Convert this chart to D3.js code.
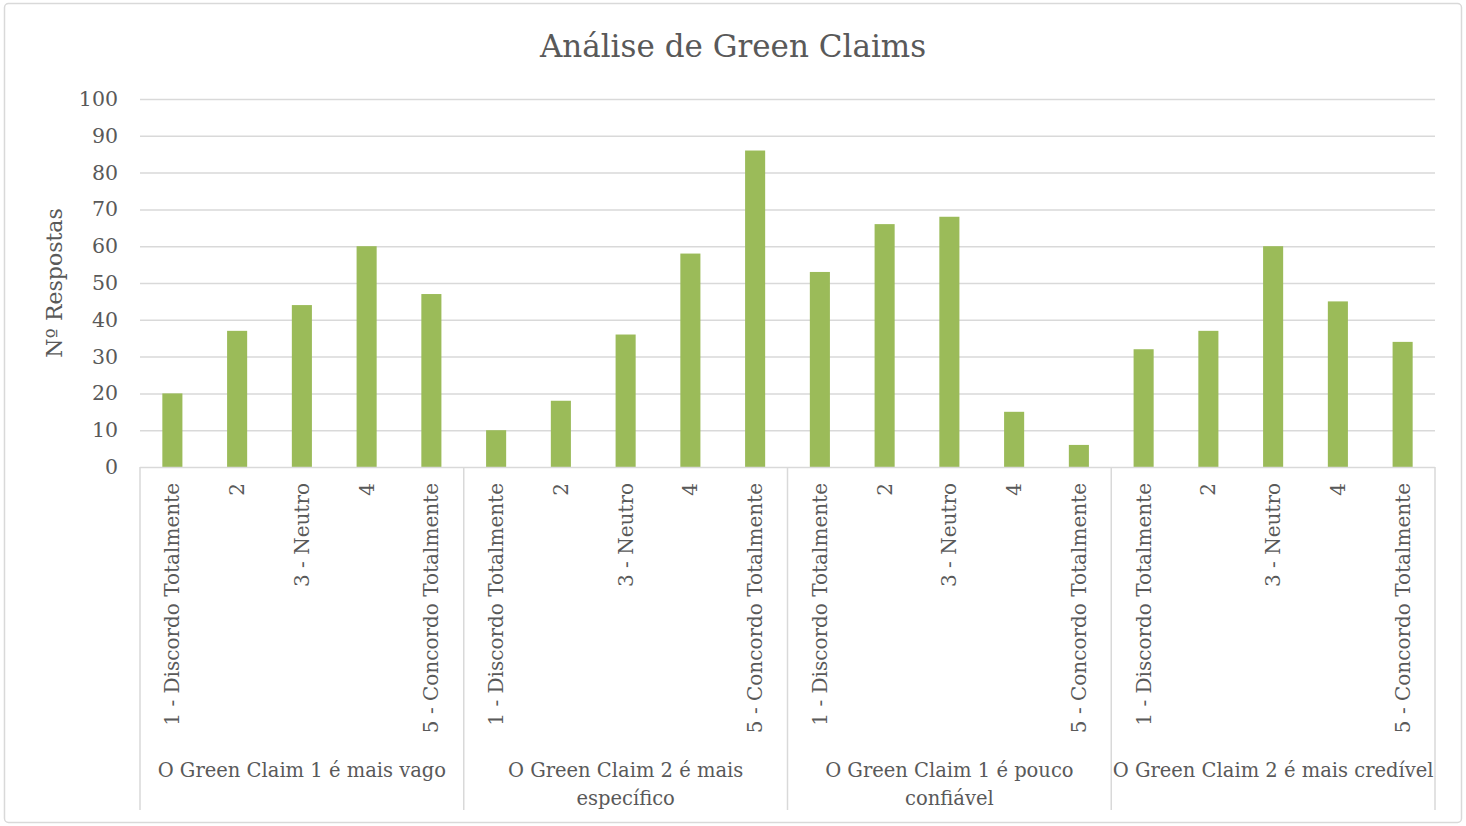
<!DOCTYPE html>
<html><head><meta charset="utf-8">
<script src="https://cdn.jsdelivr.net/npm/d3@7"></script>
<style>
html,body{margin:0;padding:0;background:#fff;}
svg text{font-family:"DejaVu Serif",serif;fill:#595959;}
</style></head>
<body>
<svg id="chart" width="1466" height="826"></svg>
<script>
const groups = ["O Green Claim 1 é mais vago","O Green Claim 2 é mais específico","O Green Claim 1 é pouco confiável","O Green Claim 2 é mais credível"];
const groupLines = [["O Green Claim 1 é mais vago"],["O Green Claim 2 é mais","específico"],["O Green Claim 1 é pouco","confiável"],["O Green Claim 2 é mais credível"]];
const categories = ["1 - Discordo Totalmente","2","3 - Neutro","4","5 - Concordo Totalmente"];
const values = [
  [20,37,44,60,47],
  [10,18,36,58,86],
  [53,66,68,15,6],
  [32,37,60,45,34]
];
const yTicks = [0,10,20,30,40,50,60,70,80,90,100];

(function(){
const svg = d3.select("#chart");
svg.append("rect").attr("x",4.5).attr("y",3.5).attr("width",1457).attr("height",819)
  .attr("fill","#fff").attr("stroke","#d9d9d9").attr("stroke-width",1.5).attr("rx",4);

const pl=140, pr=1435, pt=99, pb=467;
const x0 = d3.scaleBand().domain(groups).range([pl,pr]).padding(0);
const x1 = d3.scaleBand().domain(categories).range([0,x0.bandwidth()]).paddingInner(0.69).paddingOuter(0.345);
const y = d3.scaleLinear().domain([0,100]).range([pb,pt]);

svg.append("g").selectAll("line").data(yTicks.slice(1)).join("line")
  .attr("x1",pl).attr("x2",pr).attr("y1",d=>y(d)+0.5).attr("y2",d=>y(d)+0.5)
  .attr("stroke","#d9d9d9").attr("stroke-width",1.5);

const yAxis = d3.axisLeft(y).tickValues(yTicks).tickSize(0).tickPadding(22);
const ya = svg.append("g").attr("transform",`translate(${pl},0)`).call(yAxis);
ya.select(".domain").remove();
ya.selectAll("text").style("font-family","DejaVu Serif").style("font-size","20.5px").attr("fill","#595959");

const g = svg.append("g");
values.forEach((vals,gi)=>{
  g.selectAll(null).data(vals).join("rect")
    .attr("x",(d,i)=>x0(groups[gi])+x1(categories[i]))
    .attr("width",x1.bandwidth())
    .attr("y",d=>y(d)).attr("height",d=>y(0)-y(d))
    .attr("fill","#9bbb59");
});

svg.append("line").attr("x1",pl).attr("x2",pr).attr("y1",pb+0.5).attr("y2",pb+0.5)
  .attr("stroke","#d9d9d9").attr("stroke-width",1.5);
const seps = groups.map(d=>x0(d)).concat([pr]);
svg.append("g").selectAll("line").data(seps).join("line")
  .attr("x1",d=>d).attr("x2",d=>d).attr("y1",pb).attr("y2",810)
  .attr("stroke","#d9d9d9").attr("stroke-width",1.5);

groups.forEach((gname,gi)=>{
  svg.append("g").selectAll("text").data(categories).join("text")
    .attr("transform",c=>`translate(${x0(gname)+x1(c)+x1.bandwidth()/2},483) rotate(-90)`)
    .attr("text-anchor","end").attr("dy","0.35em")
    .style("font-size","20px").text(c=>c);
});

groupLines.forEach((lines,gi)=>{
  const cx = x0(groups[gi])+x0.bandwidth()/2;
  const t = svg.append("text").attr("x",cx).attr("y",777)
    .attr("text-anchor","middle").style("font-size","19.5px");
  lines.forEach((l,li)=>t.append("tspan").attr("x",cx).attr("dy",li?28:0).text(l));
});

svg.append("text").attr("x",733).attr("y",57).attr("text-anchor","middle").style("font-size","31px").text("Análise de Green Claims");
svg.append("text").attr("transform","translate(62,283) rotate(-90)").attr("text-anchor","middle").style("font-size","22px").text("Nº Respostas");
})();
</script>
</body></html>
